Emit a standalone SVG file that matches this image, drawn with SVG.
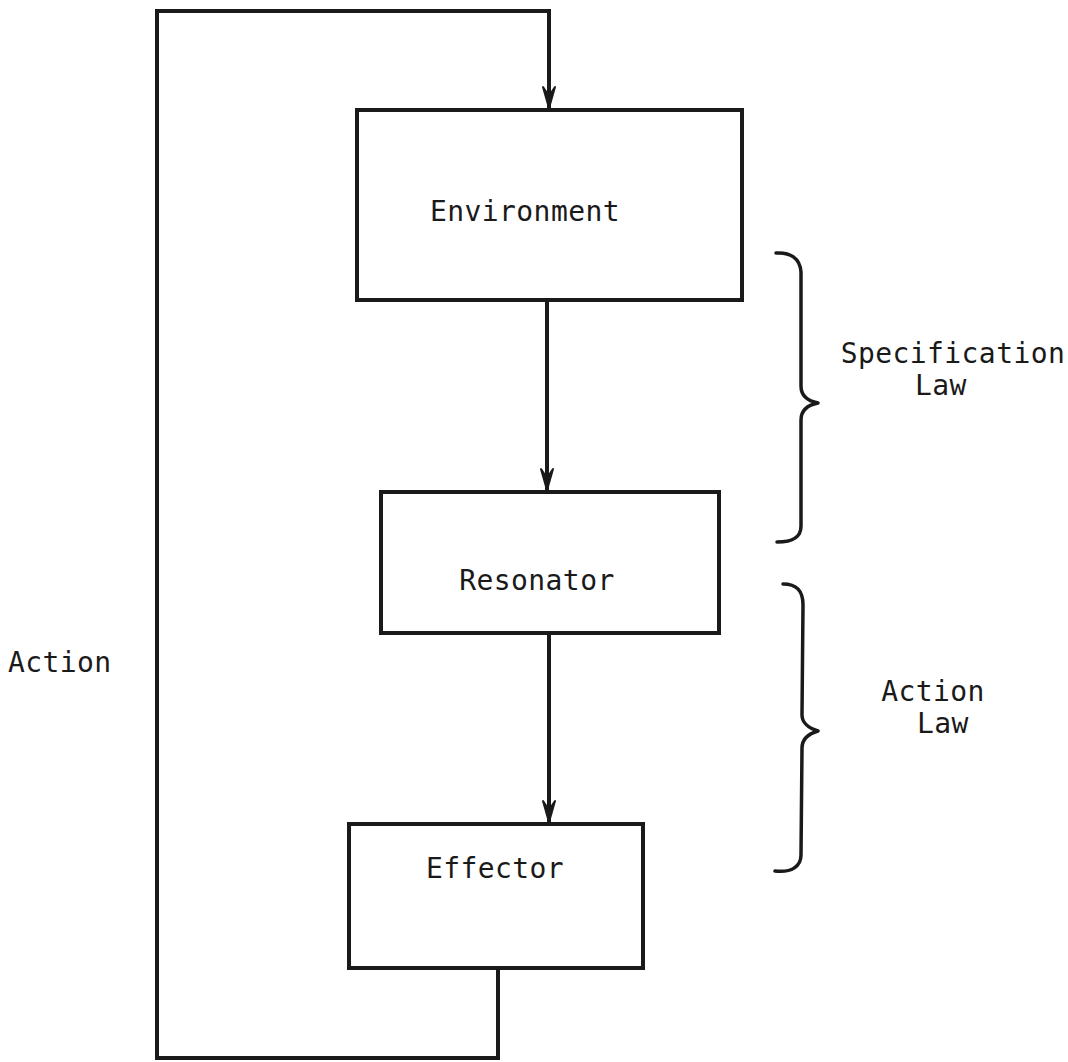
<svg xmlns="http://www.w3.org/2000/svg" width="1068" height="1062" viewBox="0 0 1068 1062">
  <style>
    .box { fill: #fff; stroke: #1a1a1a; stroke-width: 4; }
    .wire { fill: none; stroke: #1a1a1a; stroke-width: 4; stroke-linejoin: miter; }
    .brace { fill: none; stroke: #1a1a1a; stroke-width: 3.5; stroke-linecap: round; stroke-linejoin: round; }
    .lbl { font-family: "DejaVu Sans Mono", "Liberation Mono", monospace; font-size: 28px; letter-spacing: 0.4px; fill: #1a1a1a; }
  </style>
  <defs>
    <!-- V-shaped arrowhead, tip at the origin -->
    <marker id="head" viewBox="-9 -24 18 26" refX="0" refY="0" markerWidth="18" markerHeight="26" markerUnits="userSpaceOnUse" orient="0">
      <path d="M-6,-21 L0,0 L6,-21 L0,-12 Z" fill="#1a1a1a" stroke="#1a1a1a" stroke-width="2" stroke-linejoin="round"/>
    </marker>
  </defs>

  <!-- connectors -->
  <g id="connectors">
    <!-- feedback loop: Effector -> around left -> Environment -->
    <path class="wire" d="M498,968 L498,1058 L157,1058 L157,11 L549,11 L549,108" marker-end="url(#head)"/>
    <path class="wire" d="M547,300 L547,490" marker-end="url(#head)"/>
    <path class="wire" d="M549,634 L549,822" marker-end="url(#head)"/>
  </g>

  <g id="environment">
    <rect class="box" x="357" y="110" width="385" height="190"/>
    <text class="lbl" x="525" y="221" text-anchor="middle">Environment</text>
  </g>

  <g id="resonator">
    <rect class="box" x="381" y="492" width="338" height="141"/>
    <text class="lbl" x="537" y="590" text-anchor="middle">Resonator</text>
  </g>

  <g id="effector">
    <rect class="box" x="349" y="824" width="294" height="144"/>
    <text class="lbl" x="495" y="878" text-anchor="middle">Effector</text>
  </g>

  <g id="action">
    <text class="lbl" x="8" y="672">Action</text>
  </g>

  <g id="specification-law">
    <path class="brace" d="M776,253 C790,252 800,258 801,272 L801,386 C801,396 808,401 818,403 C808,405 801,410 801,420 L801,526 C801,538 792,542 777,542"/>
    <text class="lbl" x="953" y="363" text-anchor="middle">Specification</text>
    <text class="lbl" x="941" y="395" text-anchor="middle">Law</text>
  </g>

  <g id="action-law">
    <path class="brace" d="M783,584 C796,584 803,590 803,605 L802,715 C802,722 808,728 818,731 C808,734 802,740 802,748 L801,855 C801,866 792,873 775,871"/>
    <text class="lbl" x="933" y="701" text-anchor="middle">Action</text>
    <text class="lbl" x="943" y="733" text-anchor="middle">Law</text>
  </g>
</svg>
